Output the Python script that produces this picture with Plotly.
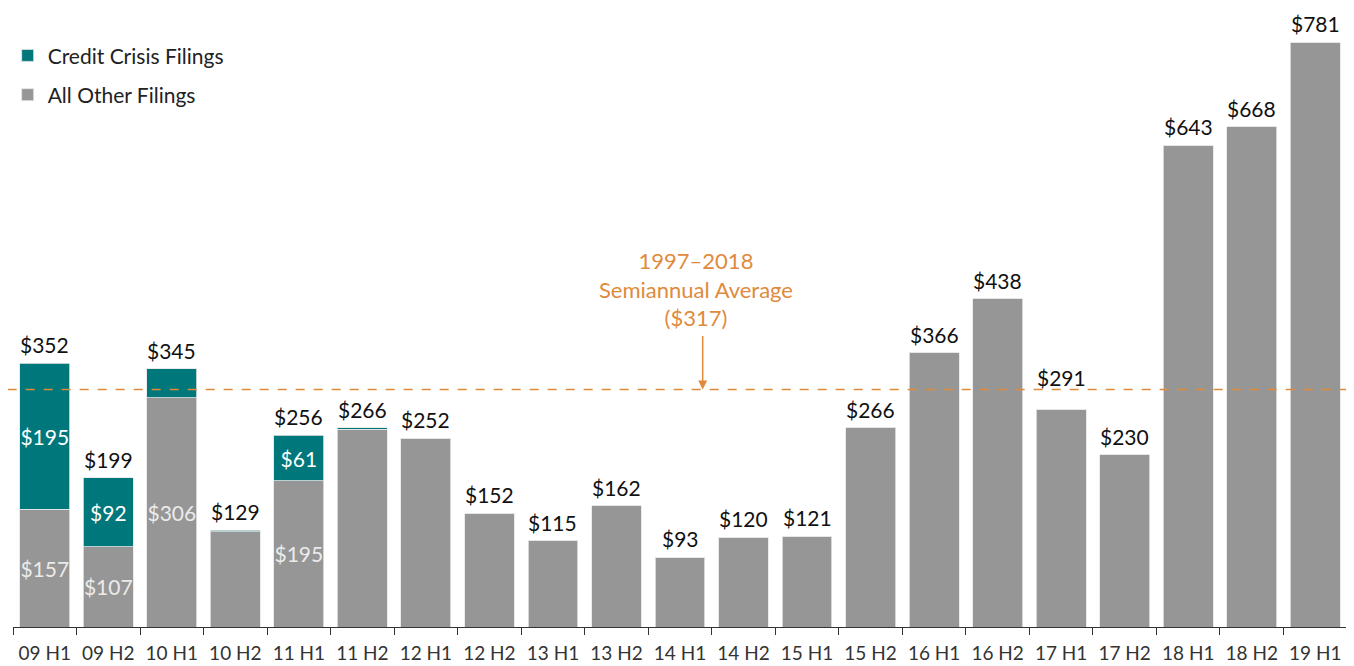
import plotly.graph_objects as go

periods = ["09 H1", "09 H2", "10 H1", "10 H2", "11 H1", "11 H2", "12 H1", "12 H2",
           "13 H1", "13 H2", "14 H1", "14 H2", "15 H1", "15 H2", "16 H1", "16 H2",
           "17 H1", "17 H2", "18 H1", "18 H2", "19 H1"]
totals = [352, 199, 345, 129, 256, 266, 252, 152, 115, 162, 93, 120, 121, 266,
          366, 438, 291, 230, 643, 668, 781]
credit_crisis = [195, 92, 39, 2, 61, 2, 0, 0, 0, 0, 0, 0, 0, 0,
                 0, 0, 0, 0, 0, 0, 0]
all_other = [t - c for t, c in zip(totals, credit_crisis)]

# which segments get an inside label
credit_labels = ["$195", "$92", "", "", "$61", ""] + [""] * 15
other_labels = ["$157", "$107", "$306", "", "$195", ""] + [""] * 15

average = 317
avg_text = "1997–2018<br>Semiannual Average<br>($317)"

FONT = "Lato, 'Open Sans', sans-serif"
TEAL = "#00777B"
GREY = "#969696"
ORANGE = "#E08A3C"

fig = go.Figure()
fig.add_trace(go.Bar(
    x=periods, y=all_other, name="All Other Filings",
    marker=dict(color=GREY, line=dict(color="#E6E6E6", width=0.8)),
    text=other_labels, textposition="inside", insidetextanchor="middle",
    textangle=0, constraintext="none",
    textfont=dict(color="#EBEBEB", size=21, family=FONT),
    legendgroup="other", legendrank=2, hoverinfo="skip",
))
fig.add_trace(go.Bar(
    x=periods, y=credit_crisis, name="Credit Crisis Filings",
    marker=dict(color=TEAL, line=dict(color="#E6E6E6", width=0.8)),
    text=credit_labels, textposition="inside", insidetextanchor="middle",
    textangle=0, constraintext="none",
    textfont=dict(color="#FFFFFF", size=21, family=FONT),
    legendgroup="credit", legendrank=1, hoverinfo="skip",
))

for p, t in zip(periods, totals):
    extra = 13 if p == "17 H1" else 0
    fig.add_annotation(x=p, y=t, text=f"${t}", showarrow=False,
                       yanchor="bottom", yshift=4 + extra,
                       font=dict(size=21, color="#111111", family=FONT))

fig.add_shape(type="line", xref="paper", yref="y", x0=-0.004, x1=1.004,
              y0=average, y1=average,
              line=dict(color=ORANGE, width=1.5, dash="dash"))
fig.add_annotation(xref="paper", yref="y", x=0.512, y=average, yshift=101,
                   text=avg_text, showarrow=False,
                   font=dict(size=22, color=ORANGE, family=FONT))
fig.add_annotation(xref="paper", yref="y", x=0.517, y=average, text="",
                   showarrow=True, ax=0, ay=-55, arrowhead=2, arrowsize=1.2,
                   arrowwidth=1.5, arrowcolor=ORANGE)

fig.update_layout(
    barmode="stack",
    bargap=0.215,
    width=1354, height=666,
    plot_bgcolor="white", paper_bgcolor="white",
    margin=dict(l=5, r=15, t=0, b=47, autoexpand=False),
    font=dict(family=FONT, size=18, color="#222222"),
    showlegend=True,
    legend=dict(x=-0.004, y=0.956, xanchor="left", yanchor="top",
                traceorder="grouped", tracegroupgap=9,
                font=dict(size=21, color="#222222", family=FONT),
                bgcolor="rgba(0,0,0,0)"),
)
fig.update_xaxes(showline=True, linecolor="#333333", linewidth=1,
                 ticks="outside", ticklen=7, tickcolor="#333333",
                 tickson="boundaries", showgrid=False, automargin=False,
                 tickangle=0, ticklabelstandoff=9,
                 tickfont=dict(size=19, color="#333333", family=FONT))
fig.update_yaxes(visible=False, range=[0, 826.4], showgrid=False, automargin=False)

fig.write_html("out.html")
